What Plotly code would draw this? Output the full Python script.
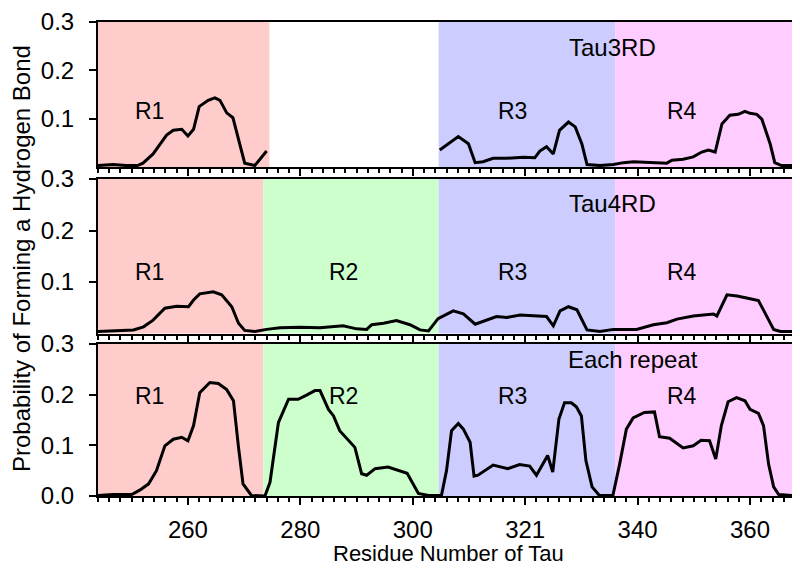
import plotly.graph_objects as go

# Tau3RD (R1 then gap, R3/R4)
tau3_r1_res = [244, 246.7, 249, 251, 252, 253.8, 256.2, 257.4, 258.9, 260,
               261, 262, 263.6, 264.8, 265.7, 266.9, 268, 269.3, 270.1, 271.9, 274]
tau3_r1_val = [0.003, 0.005, 0.003, 0.003, 0.008, 0.027, 0.066, 0.076, 0.078, 0.064,
               0.078, 0.125, 0.138, 0.143, 0.138, 0.112, 0.102, 0.047, 0.008, 0.003, 0.033]
tau3_r34_res = [304.8, 306.6, 308.1, 309.9, 311.1, 312.5, 314.3, 316.7, 319.7, 321.7,
                322.6, 323.8, 325.0, 326.1, 327.7, 328.9, 330.1, 331.0, 333.3, 335.7,
                337.5, 339.3, 342.2, 345.2, 346.1, 348.1, 349.9, 351.4, 352.6, 353.8,
                355.0, 356.4, 357.9, 359.1, 360.0, 361.2, 362.1, 363.6, 364.4, 365.6, 367.7]
tau3_r34_val = [0.035, 0.050, 0.063, 0.048, 0.009, 0.011, 0.018, 0.018, 0.020, 0.019,
                0.033, 0.042, 0.027, 0.076, 0.093, 0.083, 0.047, 0.005, 0.003, 0.005,
                0.009, 0.011, 0.009, 0.008, 0.014, 0.016, 0.021, 0.031, 0.035, 0.031,
                0.089, 0.107, 0.109, 0.115, 0.111, 0.109, 0.099, 0.047, 0.009, 0.003, 0.003]

# Tau4RD
tau4_res = [244, 247.3, 250.3, 252.1, 253.8, 255.9, 258, 260.1, 261, 262.1,
            264.5, 266, 267.8, 269, 270.1, 271.9, 274, 276.4, 279.9, 283.5,
            285.9, 287.6, 290, 291.8, 292.7, 294.8, 297.1, 299.5, 301.3, 302.8,
            304.5, 307.2, 309.0, 311.1, 314.9, 316.7, 319.1, 321.4, 323.8, 325.0,
            326.2, 327.7, 329.2, 331.0, 333.3, 335.7, 338.1, 339.8, 342.8, 345.2,
            347.0, 349.9, 353.5, 354.1, 355.9, 357.7, 359.8, 361.5, 362.7, 364.2,
            365.4, 367.7]
tau4_val = [0.004, 0.006, 0.007, 0.013, 0.026, 0.049, 0.053, 0.052, 0.065, 0.077,
            0.081, 0.075, 0.052, 0.020, 0.006, 0.004, 0.008, 0.011, 0.012, 0.011,
            0.013, 0.015, 0.009, 0.008, 0.017, 0.020, 0.025, 0.017, 0.007, 0.005,
            0.029, 0.044, 0.038, 0.018, 0.033, 0.031, 0.036, 0.035, 0.033, 0.015,
            0.044, 0.052, 0.046, 0.007, 0.004, 0.008, 0.008, 0.008, 0.017, 0.021,
            0.028, 0.034, 0.038, 0.034, 0.075, 0.073, 0.068, 0.064, 0.039, 0.008,
            0.004, 0.004]

# Each repeat
each_res = [244, 246.7, 250, 251.5, 253, 254.4, 255.9, 257.4, 258.9, 260,
            261, 262.1, 263.9, 265.4, 266.9, 268.1, 269, 269.8, 271.3, 273.7,
            274.6, 276.1, 277.9, 279.6, 281.1, 282.6, 283.5, 285, 285.9, 287.0,
            289.7, 290.9, 291.8, 293.3, 295.6, 297.4, 299, 301, 302.8, 305.1,
            306.0, 306.9, 308.1, 309, 310.2, 310.9, 311.6, 314.3, 316.9, 319.0,
            320.8, 322.0, 324.0, 324.9, 326.0, 327, 328.2, 329.1, 330.0, 330.8,
            331.9, 333.2, 335.6, 336.8, 338.0, 339.2, 341.2, 343.0, 343.9, 345.7,
            348.1, 349.9, 351.3, 352.8, 353.9, 354.9, 356.1, 357.6, 359.1, 360,
            361.5, 362.4, 363.3, 364.2, 365.1, 367.7]
each_val = [0.001, 0.003, 0.003, 0.012, 0.024, 0.050, 0.099, 0.112, 0.116, 0.109,
            0.139, 0.204, 0.224, 0.222, 0.210, 0.188, 0.096, 0.024, 0.001, 0.000,
            0.027, 0.145, 0.191, 0.191, 0.199, 0.208, 0.208, 0.171, 0.158, 0.129,
            0.096, 0.044, 0.041, 0.054, 0.057, 0.050, 0.045, 0.005, 0.001, 0.001,
            0.050, 0.129, 0.143, 0.132, 0.106, 0.039, 0.041, 0.061, 0.054, 0.062,
            0.059, 0.041, 0.080, 0.047, 0.152, 0.184, 0.184, 0.176, 0.158, 0.070,
            0.018, 0.001, 0.001, 0.063, 0.132, 0.154, 0.165, 0.166, 0.117, 0.114,
            0.095, 0.099, 0.110, 0.109, 0.073, 0.139, 0.186, 0.194, 0.188, 0.171,
            0.163, 0.139, 0.063, 0.018, 0.003, 0.001]

x_ticks = [260, 280, 300, 320, 340, 360]
x_ticktext = ["260", "280", "300", "321", "340", "360"]

repeat_names = ["R1", "R2", "R3", "R4"]
repeat_label_x = [253.2, 287.6, 317.8, 347.9]
repeat_colors = ["#FFCCCC", "#CCFFCC", "#CCCCFF", "#FFCCFF"]

# shaded spans per panel (start, end, colour index)
spans_tau3 = [(244, 274.5, 0), (304.6, 336, 2), (336, 368, 3)]
spans_tau4 = [(244, 273.4, 0), (273.4, 304.6, 1), (304.6, 336, 2), (336, 368, 3)]

panel_titles = ["Tau3RD", "Tau4RD", "Each repeat"]

FONT = "Liberation Sans, Arial, sans-serif"

fig = go.Figure()

line = dict(color="black", width=3)
fig.add_trace(go.Scatter(x=tau3_r1_res + [None] + tau3_r34_res,
                         y=tau3_r1_val + [None] + tau3_r34_val,
                         mode="lines", line=line, xaxis="x", yaxis="y"))
fig.add_trace(go.Scatter(x=tau4_res, y=tau4_val, mode="lines", line=line,
                         xaxis="x2", yaxis="y2"))
fig.add_trace(go.Scatter(x=each_res, y=each_val, mode="lines", line=line,
                         xaxis="x3", yaxis="y3"))

shapes = []
for axn, spans in (("", spans_tau3), ("2", spans_tau4), ("3", spans_tau4)):
    for x0, x1, ci in spans:
        shapes.append(dict(type="rect", xref="x" + axn, yref="y" + axn + " domain",
                           x0=x0, x1=x1, y0=0, y1=1, layer="below",
                           fillcolor=repeat_colors[ci], line=dict(width=0)))

annotations = []
label_y = [0.116, 0.119, 0.198]
title_pos = [(335.6, 0.248), (335.6, 0.253), (339.2, 0.27)]
for p, axn in enumerate(["", "2", "3"]):
    names = [0, 2, 3] if p == 0 else [0, 1, 2, 3]
    for i in names:
        annotations.append(dict(x=repeat_label_x[i], y=label_y[p], xref="x" + axn,
                                yref="y" + axn, text=repeat_names[i], showarrow=False,
                                font=dict(size=23, color="black", family=FONT)))
    annotations.append(dict(x=title_pos[p][0], y=title_pos[p][1], xref="x" + axn,
                            yref="y" + axn, text=panel_titles[p], showarrow=False,
                            font=dict(size=24, color="black", family=FONT)))

# page body adds an 8px offset, so the figure is 8px smaller each way
W, H = 792, 565
ML, MR, MT, MB = 90, 5, 14, 77
plot_w, plot_h = W - ML - MR, H - MT - MB

annotations.append(dict(x=(13 - ML) / plot_w, y=0.5, xref="paper", yref="paper",
                        xanchor="center", yanchor="middle",
                        text="Probability of Forming a Hydrogen Bond", textangle=-90,
                        showarrow=False, font=dict(size=24, color="black", family=FONT)))
annotations.append(dict(x=(440 - ML) / plot_w, y=-57 / plot_h, xref="paper", yref="paper",
                        xanchor="center", yanchor="middle",
                        text="Residue Number of Tau", showarrow=False,
                        font=dict(size=22, color="black", family=FONT)))

# panel edges in page pixels (top, bottom); plot bottom sits at page y 496
panel_px = [(22, 167), (179, 333.5), (344, 496)]
domains = [[(496 - b) / plot_h, min(1.0, (496 - t) / plot_h)] for t, b in panel_px]

layout = dict(
    width=W, height=H,
    margin=dict(l=ML, r=MR, t=MT, b=MB),
    plot_bgcolor="white", paper_bgcolor="white",
    showlegend=False,
    font=dict(family=FONT, size=24, color="black"),
    shapes=shapes, annotations=annotations,
)
for p, axn in enumerate(["", "2", "3"]):
    layout["xaxis" + axn] = dict(
        range=[244, 368], domain=[0, 1], anchor="y" + axn, automargin=False,
        tickmode="array", tickvals=x_ticks, ticktext=x_ticktext,
        showticklabels=(p == 2), ticks="outside", ticklen=7, tickwidth=2,
        tickcolor="black", showgrid=False, zeroline=False,
        showline=True, linewidth=2, linecolor="black", mirror=True,
        minor=dict(tick0=244, dtick=2, ticks="outside", ticklen=4,
                   tickwidth=2, tickcolor="black", showgrid=False),
        tickfont=dict(size=24), ticklabelstandoff=4,
    )
    layout["yaxis" + axn] = dict(
        range=[0, 0.3], domain=domains[p], anchor="x" + axn, automargin=False,
        tickmode="array",
        tickvals=[0.0, 0.1, 0.2, 0.3] if p == 2 else [0.1, 0.2, 0.3],
        ticktext=["0.0", "0.1", "0.2", "0.3"] if p == 2 else ["0.1", "0.2", "0.3"],
        ticks="outside", ticklen=7, tickwidth=2, tickcolor="black",
        showgrid=False, zeroline=False,
        showline=True, linewidth=2, linecolor="black", mirror=True,
        tickfont=dict(size=24), ticklabelstandoff=10, ticklabeloverflow="allow",
    )

fig.update_layout(**layout)
fig.write_html("out.html")
